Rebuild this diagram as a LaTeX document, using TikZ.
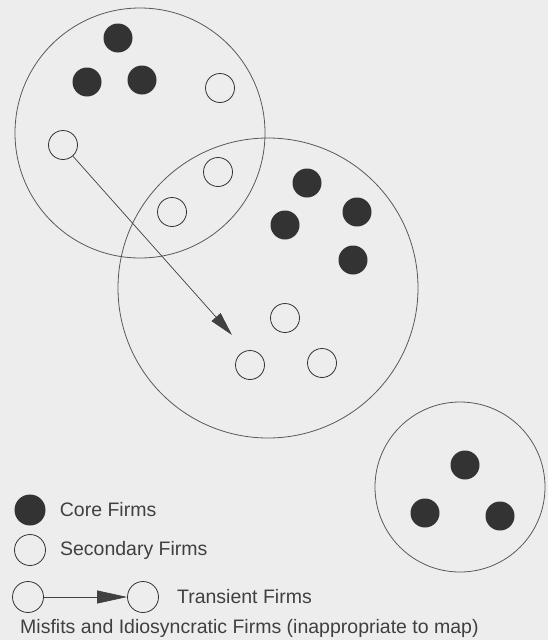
\documentclass[tikz,border=0pt]{standalone}
\usepackage{fontspec}
\setmainfont{Liberation Sans}
\usetikzlibrary{arrows.meta,positioning}

\begin{document}
\begin{tikzpicture}[x=1pt, y=-1pt,
  cluster/.style={draw=black!65, circle, line width=0.8pt, inner sep=0pt},
  core/.style={circle, fill=black!80, minimum size=29pt, inner sep=0pt},
  secondary/.style={circle, draw=black!80, minimum size=29pt, inner sep=0pt, line width=0.8pt},
  legtext/.style={font=\fontsize{19.5}{23}\selectfont, text=black!75, inner sep=0pt},
  move/.style={draw=black!75, line width=0.7pt, -{Triangle[length=24pt, width=12pt]}},
  node distance=14pt
]
  \fill[black!7] (0,0) rectangle (548,640);

  % clusters
  \node[cluster, minimum size=250pt] (clusterA) at (140,133) {};
  \node[cluster, minimum size=300pt] (clusterB) at (268,288) {};
  \node[cluster, minimum size=170pt] (clusterC) at (460,487) {};

  % firms in first cluster
  \node[core] (a1) at (118,38) {};
  \node[core] (a2) at (87,82) {};
  \node[core] (a3) at (142,80) {};
  \node[secondary] (a4) at (220,88) {};
  \node[secondary] (a5) at (63,145) {};
  \node[secondary] (a6) at (218,172) {};
  \node[secondary] (a7) at (172,212) {};

  % firms in second cluster
  \node[core] (b1) at (307,183) {};
  \node[core] (b2) at (285,225) {};
  \node[core] (b3) at (357,212) {};
  \node[core] (b4) at (353,260) {};
  \node[secondary] (b5) at (285,318) {};
  \node[secondary] (b6) at (250,365) {};
  \node[secondary] (b7) at (322,363) {};

  % firms in third cluster
  \node[core] (c1) at (465,465) {};
  \node[core] (c2) at (425,513) {};
  \node[core] (c3) at (500,516) {};

  % transient firm moving between clusters
  \coordinate (moveend) at (232,335);
  \draw[move] (a5) -- (moveend);

  % legend
  \node[core, minimum size=31pt] (legcore) at (30,510) {};
  \node[legtext, right=of legcore] (legcoretext) {Core Firms};
  \node[secondary, minimum size=31pt] (legsec) at (30,550) {};
  \node[legtext, right=of legsec] (legsectext) {Secondary Firms};
  \node[secondary, minimum size=31pt] (legtransA) at (28,597) {};
  \node[secondary, minimum size=31pt] (legtransB) at (143,597) {};
  \node[legtext, right=18pt of legtransB] (legtranstext) {Transient Firms};
  \draw[move, -{Triangle[length=30pt, width=13pt]}] (legtransA) -- (legtransB);
  \node[legtext, anchor=west] (legmisfit) at (20,628) {Misfits and Idiosyncratic Firms (inappropriate to map)};
\end{tikzpicture}
\end{document}
